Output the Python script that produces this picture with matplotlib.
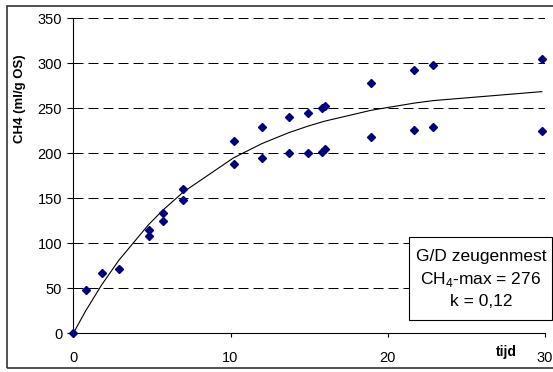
import numpy as np
import matplotlib.pyplot as plt
from matplotlib.patches import Rectangle

plt.rcParams['font.family'] = ['Liberation Sans', 'DejaVu Sans']

# gemeten methaanproductie per dag (twee reactoren)
vecTijd = [0, 0.8, 1.8, 2.9, 4.8, 4.8, 5.7, 5.7, 7.0, 7.0, 10.2, 10.2, 12.0, 12.0,
           13.7, 13.7, 14.9, 14.9, 15.8, 15.8, 16.0, 16.0, 18.95, 18.95, 21.7, 21.7,
           22.9, 22.9, 29.8, 29.8]
vecCH4 = [0, 48.5, 67, 71, 115, 108, 134, 125, 160, 148.5, 214, 187.5, 228.5, 195,
          240, 199.6, 244, 200, 250, 201.5, 252, 204.5, 277.5, 217.5, 292, 226,
          297.8, 228.5, 304, 225]

# eerste-orde model
fCH4Max = 276
fK = 0.12

vecXTicks = [0, 10, 20, 30]
vecYTicks = [0, 50, 100, 150, 200, 250, 300, 350]

W, H = 553, 372


def main():
    fig = plt.figure(figsize=(W / 100, H / 100), dpi=100)
    ax = fig.add_axes([0.1325, 0.104, 0.853, 0.8476])

    # buitenrand van de grafiek
    fig.patches.append(Rectangle((7 / W, 4 / H), 1.2, 1 - 9.5 / H, transform=fig.transFigure,
                                 fill=False, edgecolor='#333333', linewidth=1.2, clip_on=False))

    for y in vecYTicks[1:]:
        ax.axhline(y, color='black', linewidth=0.72, linestyle=(0, (10, 5)), zorder=1)

    tFit = np.unique(vecTijd)
    yFit = fCH4Max * (1 - np.exp(-fK * tFit))
    ax.plot(tFit, yFit, color='black', linewidth=0.8, zorder=2)

    ax.plot(vecTijd, vecCH4, linestyle='none', marker='D', markersize=4.2,
            color='#000080', markeredgecolor='#000080', zorder=3, clip_on=False)

    ax.set_xlim(0, 30)
    ax.set_ylim(0, 350)
    ax.set_xticks(vecXTicks)
    ax.set_yticks(vecYTicks)
    ax.tick_params(axis='x', direction='out', length=3, width=0.8, pad=10, labelsize=10.5)
    ax.tick_params(axis='y', direction='out', length=4, width=0.8, pad=4, labelsize=10.5)

    for s in ['top', 'right']:
        ax.spines[s].set_visible(False)
    for s in ['left', 'bottom']:
        ax.spines[s].set_linewidth(0.8)

    ax.text(0.919, -0.06, 'tijd', transform=ax.transAxes, fontsize=10, fontweight='bold',
            ha='center', va='center')
    fig.text(20 / W, 1 - 99 / H, 'CH4 (ml/g OS)', rotation=90, fontsize=9.5,
             fontweight='bold', ha='center', va='center')

    # kader met modelparameters
    fig.patches.append(Rectangle((408.5 / W, 1 - 319.5 / H), 143 / W, 83 / H,
                                 transform=fig.transFigure, facecolor='white',
                                 edgecolor='black', linewidth=0.8, zorder=4))
    fig.text(481 / W, 1 - 279 / H,
             'G/D zeugenmest\nCH$_\\mathregular{4}$-max = 276\nk = 0,12',
             fontsize=12.5, ha='center', va='center', multialignment='center',
             linespacing=1.45, zorder=5)

    fig.savefig('out.png', dpi=100)
    plt.close(fig)


if __name__ == "__main__":
    main()
